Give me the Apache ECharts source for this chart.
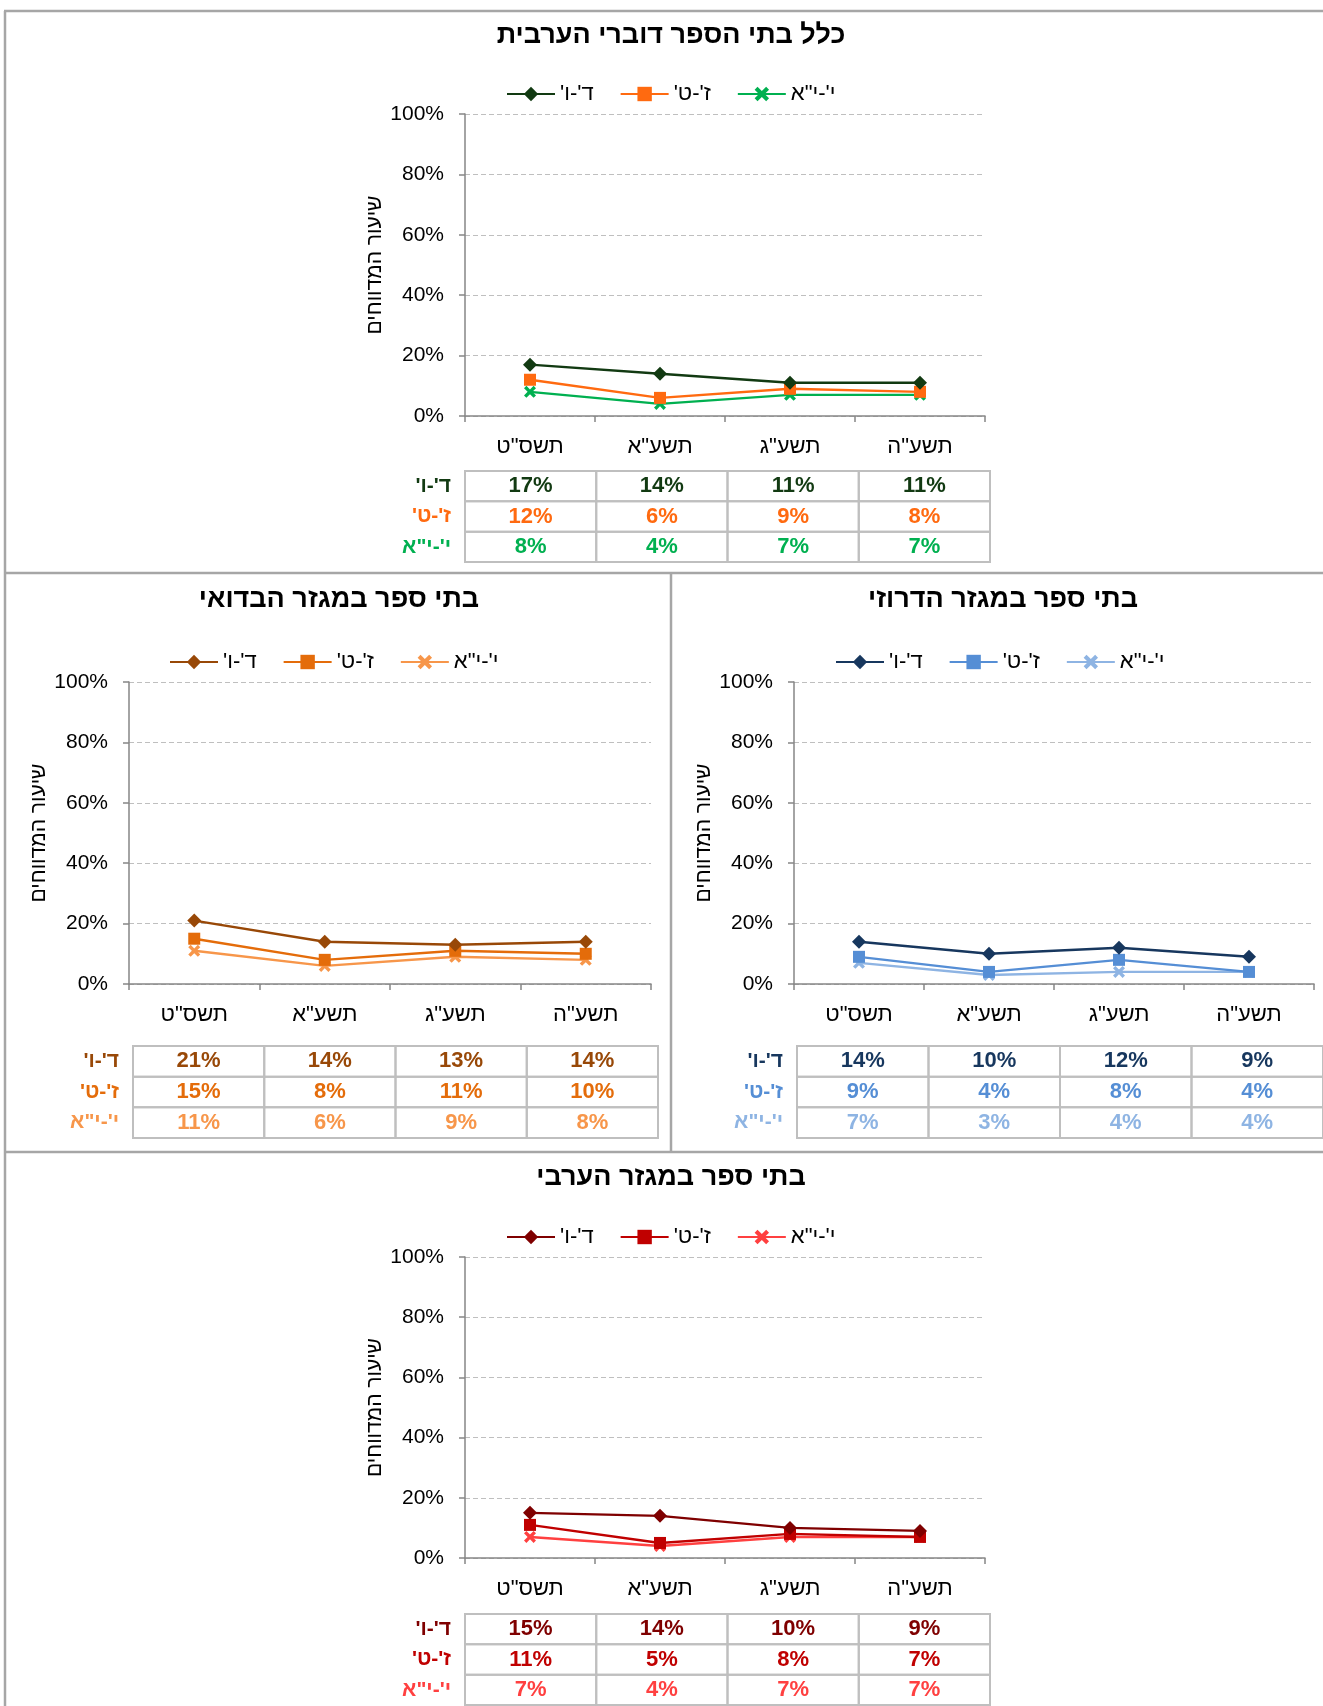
<!DOCTYPE html>
<html><head><meta charset="utf-8">
<script src="https://cdn.jsdelivr.net/npm/echarts@6/dist/echarts.min.js"></script>
<style>html,body{margin:0;padding:0;background:#fff}#c{width:1323px;height:1706px;direction:rtl}</style>
</head><body><div id="c"></div><script>
// ---- data ----
const categories = ['תשס"ט', 'תשע"א', 'תשע"ג', 'תשע"ה'];
const seriesNames = ["ד'-ו'", "ז'-ט'", 'י\'-י"א'];
const yTickValues = [0, 20, 40, 60, 80, 100];
const yAxisTitle = 'שיעור המדווחים';
const panelTitles = ['כלל בתי הספר דוברי הערבית', 'בתי ספר במגזר הבדואי', 'בתי ספר במגזר הדרוזי', 'בתי ספר במגזר הערבי'];

const all_4_6 = [17, 14, 11, 11];
const all_7_9 = [12, 6, 9, 8];
const all_10_11 = [8, 4, 7, 7];

const bedouin_4_6 = [21, 14, 13, 14];
const bedouin_7_9 = [15, 8, 11, 10];
const bedouin_10_11 = [11, 6, 9, 8];

const druze_4_6 = [14, 10, 12, 9];
const druze_7_9 = [9, 4, 8, 4];
const druze_10_11 = [7, 3, 4, 4];

const arab_4_6 = [15, 14, 10, 9];
const arab_7_9 = [11, 5, 8, 7];
const arab_10_11 = [7, 4, 7, 7];

const panelData = [
  [all_4_6, all_7_9, all_10_11],
  [bedouin_4_6, bedouin_7_9, bedouin_10_11],
  [druze_4_6, druze_7_9, druze_10_11],
  [arab_4_6, arab_7_9, arab_10_11]
];

// ---- styles / layout ----
const FONT = '"Liberation Sans", "DejaVu Sans", Arial, sans-serif';
const panelColors = [
  ['#123A12', '#FF6A10', '#00B050'],
  ['#984807', '#E46C0A', '#F7964A'],
  ['#17375E', '#558ED5', '#8EB4E3'],
  ['#7F0000', '#C00000', '#FF4040']
];
const layouts = [
  {grid: {left: 465, top: 114, width: 520, height: 302}, title: [671, 36], legend: [501, 78], table: [465, 471, 525, 91]},
  {grid: {left: 129, top: 682, width: 522, height: 302}, title: [339, 600], legend: [164, 646], table: [133, 1046, 525, 92]},
  {grid: {left: 794, top: 682, width: 520, height: 302}, title: [1003, 600], legend: [830, 646], table: [797, 1046, 526, 92]},
  {grid: {left: 465, top: 1257, width: 520, height: 301}, title: [671, 1178], legend: [501, 1221], table: [465, 1614, 525, 91]}
];
const X_PATH = 'path://M0,2 L2,0 L5,3 L8,0 L10,2 L7,5 L10,8 L8,10 L5,7 L2,10 L0,8 L3,5 Z';
const symbols = ['diamond', 'rect', X_PATH];
const symbolSizes = [14, 12, 12];

const grids = [], xAxes = [], yAxes = [], series = [], legends = [], graphics = [];

layouts.forEach((L, p) => {
  grids.push(L.grid);
  xAxes.push({
    type: 'category', gridIndex: p, data: categories, boundaryGap: true,
    axisLine: {lineStyle: {color: '#868686', width: 1.5}},
    axisTick: {show: true, length: 6, lineStyle: {color: '#868686', width: 1.5}},
    axisLabel: {fontFamily: FONT, fontSize: 22, color: '#000', margin: 20}
  });
  yAxes.push({
    type: 'value', gridIndex: p, min: yTickValues[0], max: yTickValues[yTickValues.length - 1], interval: yTickValues[1] - yTickValues[0],
    name: yAxisTitle, nameLocation: 'middle', nameGap: 79,
    nameTextStyle: {fontFamily: FONT, fontSize: 21, color: '#000'},
    axisLine: {show: true, lineStyle: {color: '#868686', width: 1.5}},
    axisTick: {show: true, length: 6, lineStyle: {color: '#868686', width: 1.5}},
    axisLabel: {fontFamily: FONT, fontSize: 21, color: '#000', margin: 21, formatter: '{value}%'},
    splitLine: {show: true, lineStyle: {color: '#BFBFBF', type: [5, 3], width: 1.2}}
  });
  const names = [];
  panelData[p].forEach((vals, s) => {
    const nm = p + '|' + s;
    names.push(nm);
    series.push({
      name: nm, type: 'line', xAxisIndex: p, yAxisIndex: p, data: vals,
      symbol: symbols[s], symbolSize: symbolSizes[s], showAllSymbol: true,
      color: panelColors[p][s],
      lineStyle: {width: 2.4, color: panelColors[p][s]},
      itemStyle: {color: panelColors[p][s]},
      z: 10 - s
    });
  });
  legends.push({
    data: names, left: L.legend[0], top: L.legend[1], orient: 'horizontal',
    itemWidth: 48, itemHeight: 18, itemGap: 26, selectedMode: false,
    formatter: (n) => seriesNames[+n.split('|')[1]],
    textStyle: {fontFamily: FONT, fontSize: 22, color: '#000'}
  });
  // title
  graphics.push({type: 'text', x: L.title[0], y: L.title[1], style: {text: panelTitles[p], fontFamily: FONT, fontSize: 27, fontWeight: 'bold', fill: '#000', align: 'center', verticalAlign: 'middle'}});
  // data table
  const [tx, ty, tw, th] = L.table;
  const cw = tw / categories.length, rh = th / 3;
  panelData[p].forEach((vals, r) => {
    graphics.push({type: 'text', x: tx - 14, y: ty + rh * (r + 0.5), style: {text: seriesNames[r], fontFamily: FONT, fontSize: 21, fontWeight: 'bold', fill: panelColors[p][r], align: 'right', verticalAlign: 'middle'}});
    vals.forEach((v, c) => {
      graphics.push({type: 'rect', shape: {x: tx + cw * c, y: ty + rh * r, width: cw, height: rh}, style: {fill: 'none', stroke: '#BFBFBF', lineWidth: 2}});
      graphics.push({type: 'text', x: tx + cw * (c + 0.5), y: ty + rh * (r + 0.5), style: {text: v + '%', fontFamily: FONT, fontSize: 22, fontWeight: 'bold', fill: panelColors[p][r], align: 'center', verticalAlign: 'middle'}});
    });
  });
});

// panel frame lines
const frameColor = '#A6A6A6';
[[4, 11, 1323, 11], [5, 11, 5, 1706], [4, 573, 1323, 573], [671, 573, 671, 1152], [4, 1152, 1323, 1152]].forEach(l => {
  graphics.push({type: 'line', shape: {x1: l[0], y1: l[1], x2: l[2], y2: l[3]}, style: {stroke: frameColor, lineWidth: 2.5}});
});

const chart = echarts.init(document.getElementById('c'), null, {renderer: 'canvas'});
chart.setOption({
  animation: false,
  backgroundColor: '#fff',
  grid: grids, xAxis: xAxes, yAxis: yAxes, series: series, legend: legends,
  graphic: {elements: graphics}
});
</script></body></html>
